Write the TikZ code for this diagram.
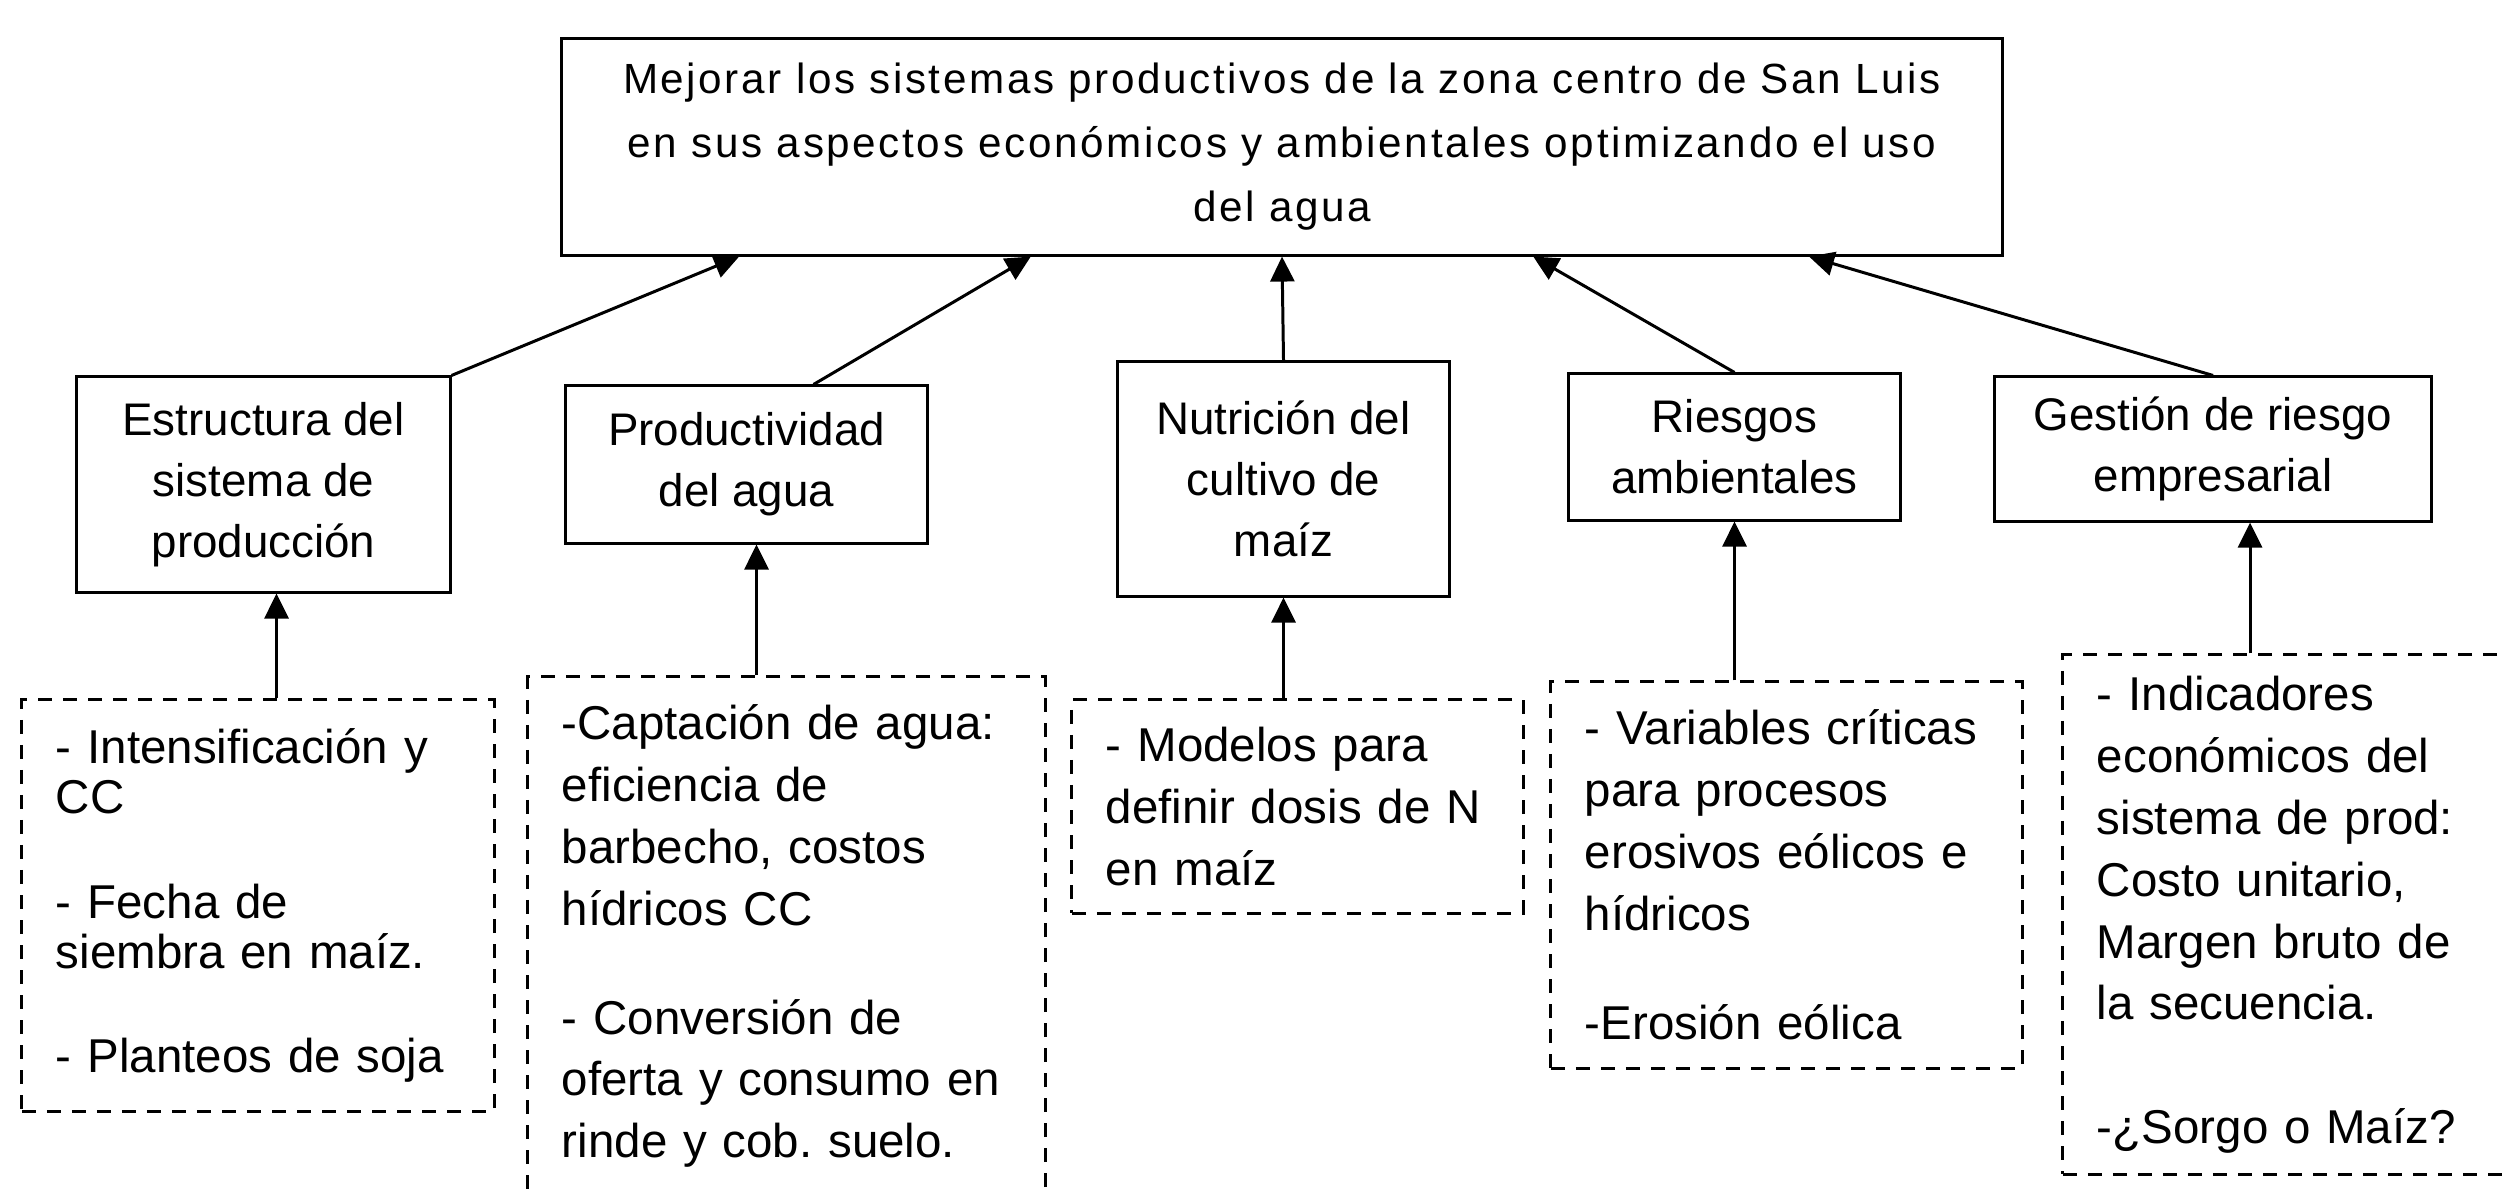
\documentclass[tikz,border=0pt]{standalone}
\usepackage{fontspec}
\setmainfont{Liberation Sans}
\newfontfamily\goalfont[LetterSpace=6.2]{Liberation Sans}
\usetikzlibrary{arrows.meta,calc}

\begin{document}
\frenchspacing
\begin{tikzpicture}[x=0.01cm,y=-0.01cm,
    goalbox/.style={draw,line width=0.85pt,align=center,inner sep=0pt,
      font=\goalfont\fontsize{12}{18.2}\selectfont},
    aimbox/.style={draw,line width=0.85pt,align=center,inner sep=0pt,
      font=\fontsize{13}{17.3}\selectfont},
    taskbox/.style={draw,line width=0.85pt,dash pattern=on 0.14cm off 0.11cm,
      align=left,inner xsep=0.34cm,inner ysep=0pt,
      font=\fontsize{13.5}{17.6}\selectfont},
    arr/.style={-{Triangle[length=0.25cm,width=0.24cm]},line width=0.85pt}]
  \useasboundingbox (0,0) rectangle (2504,1188);
  % objetivo general
  \node[goalbox,minimum width=14.4cm,minimum height=2.16cm] (goal) at (1282,147)
    {Mejorar los sistemas productivos de la zona centro de San Luis\\
     en sus aspectos económicos y ambientales optimizando el uso\\
     del agua};
  % ejes
  \node[aimbox,minimum width=3.73cm,minimum height=2.15cm] (estr) at (263.5,484.5)
    {Estructura del\\ sistema de\\ producción};
  \node[aimbox,minimum width=3.61cm,minimum height=1.57cm] (prod) at (746.5,464.5)
    {Productividad\\ del agua};
  \node[aimbox,minimum width=3.31cm,minimum height=2.34cm] (nutr) at (1283.5,479)
    {Nutrición del\\ cultivo de\\ maíz};
  \node[aimbox,minimum width=3.31cm,minimum height=1.46cm] (ries) at (1734.5,447)
    {Riesgos\\ ambientales};
  \node[aimbox,minimum width=4.36cm,minimum height=1.44cm] (gest) at (2213,449)
    {Gestión de riesgo\\ empresarial};
  % actividades
  \node[taskbox,text width=4.04cm,minimum height=4.11cm,
    font=\fontsize{13.5}{14.2}\selectfont] (act1) at (258,905.5)
    {- Intensificación y\\ CC\\[15.6pt]
     - Fecha de\\ siembra en maíz.\\[15.6pt]
     - Planteos de soja};
  \node[taskbox,text width=4.49cm,minimum height=5.18cm] (act2) at (786.5,936)
    {-Captación de agua:\\ eficiencia de\\ barbecho, costos\\ hídricos CC\\[13.4pt]
     - Conversión de\\ oferta y consumo en\\ rinde y cob. suelo.};
  \node[taskbox,text width=3.83cm,minimum height=2.13cm] (act3) at (1297.5,806.5)
    {- Modelos para\\ definir dosis de N\\ en maíz};
  \node[taskbox,text width=4.03cm,minimum height=3.86cm] (act4) at (1786.5,875)
    {- Variables críticas\\ para procesos\\ erosivos eólicos e\\ hídricos\\[13.4pt]
     -Erosión eólica};
  \node[taskbox,text width=4.02cm,minimum height=5.19cm] (act5) at (2298,914.5)
    {- Indicadores\\ económicos del\\ sistema de prod:\\ Costo unitario,\\
     Margen bruto de\\ la secuencia.\\[17.4pt]
     -¿Sorgo o Maíz?};
  % flechas hacia el objetivo
  \draw[arr] (estr.north east) -- ($(goal.south west)!0.124!(goal.south east)$);
  \draw[arr] ($(prod.north west)!0.684!(prod.north east)$)
    -- ($(goal.south west)!0.326!(goal.south east)$);
  \draw[arr] (nutr.north) -- (goal.south);
  \draw[arr] (ries.north) -- ($(goal.south west)!0.674!(goal.south east)$);
  \draw[arr] (gest.north) -- ($(goal.south west)!0.865!(goal.south east)$);
  % flechas hacia los ejes
  \draw[arr] ([xshift=0.13cm]estr.south |- act1.north) -- ([xshift=0.13cm]estr.south);
  \draw[arr] ([xshift=0.1cm]prod.south |- act2.north) -- ([xshift=0.1cm]prod.south);
  \draw[arr] (nutr.south |- act3.north) -- (nutr.south);
  \draw[arr] (ries.south |- act4.north) -- (ries.south);
  \draw[arr] ([xshift=0.37cm]gest.south |- act5.north) -- ([xshift=0.37cm]gest.south);
\end{tikzpicture}
\end{document}
